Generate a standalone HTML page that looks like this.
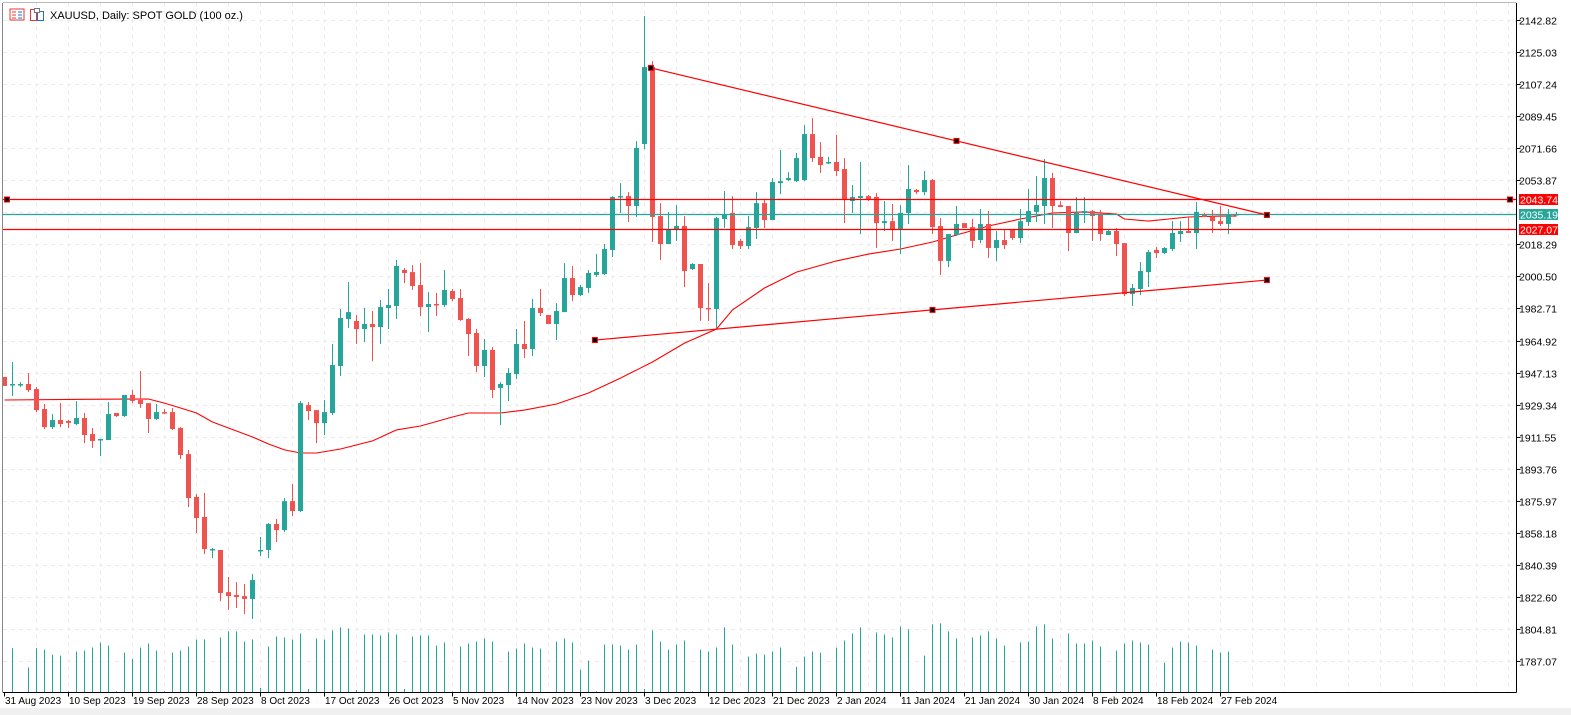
<!DOCTYPE html>
<html><head><meta charset="utf-8"><style>
html,body{margin:0;padding:0;background:#fff;}
svg{display:block;font-family:"Liberation Sans",sans-serif;}
</style></head><body>
<svg id="chart" width="1571" height="715" xmlns="http://www.w3.org/2000/svg">
<rect x="0" y="0" width="1571" height="715" fill="#ffffff"/>
<rect x="0" y="708" width="1571" height="7" fill="#f0f0f0"/>
<g id="grid"></g>
<g id="volumes"></g>
<g id="ma"></g>
<g id="candles"></g>
<g id="objects"></g>
<g id="axes"></g>
<g>
<g>
<rect x="10" y="9" width="14" height="11" fill="#fff" stroke="#e53935" stroke-width="1"/>
<line x1="12" y1="12" x2="16" y2="12" stroke="#e53935"/><line x1="12" y1="15" x2="16" y2="15" stroke="#e53935"/><line x1="12" y1="18" x2="16" y2="18" stroke="#e53935"/>
<line x1="18" y1="12" x2="22" y2="12" stroke="#1e6fd9"/><line x1="18" y1="15" x2="22" y2="15" stroke="#1e6fd9"/><line x1="18" y1="18" x2="22" y2="18" stroke="#1e6fd9"/>
</g>
<g>
<rect x="30.5" y="9.5" width="6" height="11" fill="#fff" stroke="#e53935"/>
<rect x="37.5" y="11.5" width="6" height="9" fill="#fff" stroke="#1e6fd9"/>
<rect x="34.5" y="8.5" width="5" height="4" fill="#fff" stroke="#777"/>
</g>
<text x="50" y="19" font-size="11" fill="#000">XAUUSD, Daily:  SPOT GOLD (100 oz.)</text>
</g>
</svg>
<script>
const open=[1944.7,1940.2,1940.2,1940.8,1938.0,1926.9,1916.9,1920.8,1920.3,1918.6,1921.9,1913.0,1909.7,1909.7,1924.7,1923.0,1934.7,1931.9,1930.2,1921.4,1925.2,1925.2,1916.4,1901.9,1878.1,1867.0,1848.7,1848.7,1825.3,1823.7,1823.1,1821.5,1848.1,1848.7,1863.1,1859.7,1875.8,1870.3,1929.1,1926.3,1919.1,1924.7,1950.8,1976.9,1975.8,1971.3,1974.1,1972.4,1983.0,1984.1,2004.1,2002.9,1995.7,1983.5,1985.2,1984.6,1992.4,1988.5,1976.9,1969.1,1950.8,1959.7,1938.6,1940.2,1946.3,1963.0,1960.2,1983.0,1979.1,1974.1,1980.7,1999.6,1990.2,1994.1,2001.3,2001.8,2015.2,2044.6,2045.1,2039.6,2074.0,2116.7,2034.0,2018.5,2026.8,2028.5,2004.6,2007.4,1983.0,1982.4,2032.4,2035.7,2020.2,2017.4,2027.4,2041.2,2031.8,2052.3,2054.0,2053.4,2054.0,2079.5,2066.8,2063.4,2064.0,2060.1,2042.3,2044.0,2045.1,2044.6,2030.1,2031.2,2026.8,2035.7,2048.5,2047.3,2054.0,2028.5,2009.1,2023.5,2030.1,2027.9,2020.7,2029.6,2016.3,2020.7,2026.3,2021.8,2030.7,2036.3,2039.6,2055.1,2040.1,2039.6,2024.6,2035.7,2036.8,2034.6,2023.5,2025.7,2019.0,1990.7,1993.5,2002.9,2015.2,2013.5,2015.7,2024.0,2025.7,2024.6,2035.1,2033.5,2031.2,2029.6,2035.1];
const close=[1939.7,1940.8,1940.8,1937.4,1926.3,1916.9,1920.8,1918.6,1919.2,1921.9,1912.5,1909.2,1910.3,1924.1,1923.0,1934.7,1931.4,1929.7,1921.4,1925.2,1924.7,1915.8,1901.4,1877.5,1866.4,1849.2,1849.2,1824.8,1823.1,1822.6,1821.5,1832.0,1848.7,1863.1,1859.7,1875.8,1870.3,1930.2,1925.8,1919.1,1925.2,1951.3,1977.4,1980.7,1971.3,1974.1,1972.4,1983.5,1984.6,2006.3,2002.4,1995.2,1983.5,1985.2,1984.6,1993.0,1988.0,1976.3,1968.5,1950.8,1959.7,1937.5,1940.8,1946.9,1963.0,1960.2,1983.0,1980.2,1974.1,1981.3,1999.6,1990.2,1994.6,2002.4,2003.0,2015.7,2044.6,2045.1,2039.6,2071.8,2116.7,2033.5,2018.5,2026.8,2028.5,2003.5,2007.4,1983.0,1982.4,2032.9,2035.1,2017.9,2017.4,2027.9,2041.2,2031.8,2052.9,2053.4,2055.1,2066.2,2079.5,2066.2,2062.3,2064.0,2059.0,2042.9,2044.6,2045.1,2043.5,2030.1,2031.2,2026.8,2035.7,2049.0,2047.3,2054.0,2027.9,2009.1,2024.0,2029.6,2027.4,2020.2,2029.6,2016.3,2020.7,2017.9,2021.8,2031.2,2036.8,2040.1,2055.1,2039.6,2039.0,2024.6,2035.7,2036.8,2034.0,2024.0,2025.7,2018.5,1990.7,1994.1,2003.5,2014.0,2013.5,2016.3,2024.6,2025.7,2024.6,2036.3,2033.5,2031.2,2029.6,2035.1,2035.2];
const high=[1944.7,1953.0,1941.9,1946.9,1939.1,1929.7,1924.1,1930.2,1920.8,1931.3,1924.7,1916.4,1910.3,1930.8,1924.7,1934.7,1937.5,1948.0,1930.2,1929.7,1926.9,1927.5,1916.9,1904.2,1879.7,1880.3,1849.8,1848.7,1833.7,1830.9,1829.8,1835.3,1855.9,1863.6,1865.9,1877.5,1885.3,1931.3,1930.8,1926.3,1931.9,1963.0,1982.4,1997.4,1979.1,1983.0,1981.3,1987.4,1993.5,2009.6,2005.2,2006.8,2007.9,1991.8,1991.3,2004.1,1993.5,1993.5,1977.4,1971.3,1965.8,1961.3,1941.9,1949.7,1971.3,1975.8,1988.0,1993.5,1979.1,1985.7,2007.9,2006.3,1995.7,2004.1,2012.9,2018.5,2045.1,2052.3,2047.3,2075.6,2145.0,2120.0,2041.2,2036.3,2040.1,2034.0,2007.9,2007.4,1996.8,2033.5,2047.9,2045.1,2021.3,2034.0,2047.3,2043.5,2055.1,2070.7,2058.4,2069.0,2084.5,2088.4,2075.1,2066.8,2079.0,2066.2,2051.2,2064.0,2045.7,2046.8,2042.3,2040.7,2040.1,2062.3,2049.0,2059.0,2054.6,2032.9,2024.0,2039.6,2030.1,2032.4,2037.9,2036.8,2025.7,2026.8,2026.8,2037.9,2049.0,2056.2,2065.7,2057.9,2042.3,2039.6,2044.6,2044.6,2037.4,2037.4,2026.3,2027.4,2019.0,1996.3,2008.5,2015.2,2016.8,2016.8,2031.2,2031.2,2033.5,2041.8,2035.7,2037.4,2039.6,2037.9,2036.3];
const low=[1939.7,1934.1,1939.1,1936.3,1925.2,1915.8,1915.8,1916.9,1916.4,1918.0,1908.0,1905.3,1900.8,1909.7,1922.5,1922.5,1930.2,1927.5,1913.6,1920.8,1924.1,1915.3,1899.2,1872.5,1858.1,1846.4,1844.2,1820.3,1815.4,1816.5,1813.1,1810.4,1845.3,1844.2,1853.1,1858.6,1867.5,1869.7,1920.8,1908.0,1912.5,1923.6,1945.2,1971.9,1963.0,1964.1,1953.5,1963.0,1971.3,1976.9,1996.8,1993.0,1978.5,1969.7,1978.5,1983.5,1986.8,1975.8,1956.3,1947.4,1944.7,1933.0,1918.0,1931.3,1943.6,1955.2,1956.3,1978.5,1974.1,1965.2,1980.7,1986.8,1989.6,1991.3,2000.2,2001.3,2011.3,2035.7,2030.7,2033.5,2071.2,2019.6,2009.6,2018.5,2020.2,1994.6,2004.1,1975.8,1975.8,1971.9,2027.4,2015.7,2015.7,2015.7,2021.3,2027.4,2031.8,2046.2,2053.4,2052.9,2053.4,2064.0,2057.9,2062.9,2056.2,2030.1,2035.7,2024.0,2042.3,2016.3,2025.7,2020.2,2012.9,2029.6,2046.2,2045.7,2024.0,2001.3,2005.7,2022.9,2027.4,2016.3,2019.0,2010.7,2009.1,2015.7,2020.7,2019.0,2028.5,2030.7,2029.6,2027.4,2039.0,2014.6,2024.6,2030.1,2020.2,2020.2,2023.5,2011.8,1989.6,1984.1,1990.2,1994.6,2010.7,2012.9,2014.6,2019.6,2024.6,2015.7,2033.5,2024.6,2028.5,2024.0,2034.6];
const volume=[0,130,0,73,130,126,111,108,2,120,123,132,147,138,2,117,99,132,144,123,2,117,123,135,156,156,2,162,180,180,150,156,12,135,165,162,156,174,9,159,156,183,192,189,6,171,171,168,177,171,9,165,168,168,138,147,2,135,144,150,159,150,0,120,129,144,132,129,0,150,159,147,66,93,2,141,141,138,126,141,9,183,150,126,141,153,2,126,120,132,192,141,0,105,114,111,120,132,0,75,105,120,117,0,132,153,174,192,0,177,171,162,195,186,2,108,201,204,180,159,0,162,168,180,159,138,2,147,150,195,201,159,2,174,144,144,153,135,0,123,144,153,147,141,0,87,132,150,147,138,0,126,117,120,0];
const maIdx=[0,10,18,20,22,24,26,28,31,33,35,37,39,42,46,49,52,56,58,62,65,69,73,77,81,85,89,91,95,99,104,108,112,116,119,123,127,131,135,139,140,143,148,152,154];
const maVal=[1931.9,1932.3,1932.5,1930.2,1927.5,1924.7,1919.7,1916.4,1911.4,1907.5,1904.2,1902.5,1902.5,1904.7,1909.2,1915.3,1917.5,1922.5,1924.7,1924.7,1926.3,1929.7,1935.8,1944.1,1953.0,1963.5,1971.3,1981.9,1994.1,2002.9,2009.1,2012.9,2015.7,2019.6,2023.5,2028.5,2032.4,2035.7,2036.3,2035.1,2032.4,2031.2,2033.5,2034.0,2034.0];
const priceTicks=[2142.82,2125.03,2107.24,2089.45,2071.66,2053.87,2018.29,2000.50,1982.71,1964.92,1947.13,1929.34,1911.55,1893.76,1875.97,1858.18,1840.39,1822.60,1804.81,1787.07];
const gridPrices=[2142.82,2125.03,2107.24,2089.45,2071.66,2053.87,2036.08,2018.29,2000.50,1982.71,1964.92,1947.13,1929.34,1911.55,1893.76,1875.97,1858.18,1840.39,1822.60,1804.81,1787.07];
const dateLabels=["31 Aug 2023","10 Sep 2023","19 Sep 2023","28 Sep 2023","8 Oct 2023","17 Oct 2023","26 Oct 2023","5 Nov 2023","14 Nov 2023","23 Nov 2023","3 Dec 2023","12 Dec 2023","21 Dec 2023","2 Jan 2024","11 Jan 2024","21 Jan 2024","30 Jan 2024","8 Feb 2024","18 Feb 2024","27 Feb 2024"];
const dateBars=[0,8,16,24,32,40,48,56,64,72,80,88,96,104,112,120,128,136,144,152];
const hLevels=[2043.74,2027.07];
const lastPrice=2035.19;
const trendBars=[80.8,157.8,73.8,157.8];
const trendPrices=[2116.2,2034.6,1965.2,1998.5];
const trendMidBars=[119,116];

const NS="http://www.w3.org/2000/svg";
const BULL="#26a69a",BEAR="#ef5350",RED="#ff0000";
const PL=3,PR=1516.5,PT=3,PB=692.5;
function yOf(p){return 20+(2142.82-p)*1.8018;}
function xOf(i){return 4+8*i;}
function vY(v){return 692-v/2.97;}
function mk(tag,attrs,parent){const e=document.createElementNS(NS,tag);for(const k in attrs)e.setAttribute(k,attrs[k]);parent.appendChild(e);return e;}
const G=id=>document.getElementById(id);

const grid=G('grid');
gridPrices.forEach(p=>{const y=Math.round(yOf(p))+0.5;
 const l=mk('line',{x1:PL,x2:PR,y1:y,y2:y,stroke:'#eeeaee','stroke-dasharray':'4,4'},grid);
 
 });
for(let i=4;xOf(i)<PR;i+=4){const x=xOf(i)+0.5;
 const l=mk('line',{x1:x,x2:x,y1:PT,y2:PB,stroke:'#eeeaee','stroke-dasharray':'4,4'},grid);
 
 }

const vg=G('volumes');
volume.forEach((v,i)=>{if(v<=0)return;const y=vY(v);
 const r=mk('rect',{x:xOf(i),y:y,width:1,height:692-y,fill:BULL},vg);
 
 });

const maPts=maIdx.map((b,k)=>(xOf(b)+0.5)+','+yOf(maVal[k]).toFixed(1)).join(' ');
const maLine=mk('polyline',{points:maPts,fill:'none',stroke:RED,'stroke-width':1.1},G('ma'));



const cg=G('candles');
open.forEach((o,i)=>{const c=close[i],up=c>=o,col=up?BULL:BEAR,x=xOf(i);
 const g=mk('g',{},cg);
 
 
 const yh=yOf(high[i]),yl=yOf(low[i]);
 mk('rect',{x:x,y:yh,width:1,height:Math.max(1,yl-yh),fill:col},g);
 const yt=yOf(Math.max(o,c)),yb=yOf(Math.min(o,c));
 if(yb-yt<1.5){mk('rect',{x:x-2,y:yt,width:5,height:1.5,fill:col},g);}
 else mk('rect',{x:x-2,y:yt,width:5,height:yb-yt,fill:col},g);});

const og=G('objects');
function marker(x,y,name){const r=mk('rect',{x:x-2.5,y:y-2.5,width:5,height:5,fill:'#000',stroke:RED,'stroke-width':1},og);
 
 }
hLevels.forEach(p=>{const y=Math.round(yOf(p))+0.5;
 const l=mk('line',{x1:PL,x2:PR,y1:y,y2:y,stroke:RED,'stroke-width':1.3},og);
 
 });
const ly=Math.round(yOf(lastPrice))+0.5;
const lp=mk('line',{x1:PL,x2:PR,y1:ly,y2:ly,stroke:BULL,'stroke-width':1.2},og);


marker(7,Math.round(yOf(hLevels[0]))+0.5,'level-handle-left');
marker(1510,Math.round(yOf(hLevels[0]))+0.5,'level-handle-right');
for(let t=0;t<2;t++){
 const x1=xOf(trendBars[2*t])+0.5,y1=yOf(trendPrices[2*t]),x2=xOf(trendBars[2*t+1])+0.5,y2=yOf(trendPrices[2*t+1]);
 const l=mk('line',{x1:x1,y1:y1,x2:x2,y2:y2,stroke:RED,'stroke-width':1.2},og);
 
 
 marker(x1,y1,'trendline-handle');
 marker(x2,y2,'trendline-handle');
 const mb=trendMidBars[t],mx=xOf(mb)+0.5,my=y1+(y2-y1)*(mx-x1)/(x2-x1);
 marker(mx,my,'trendline-handle');}

const ag=G('axes');
let e=mk('line',{x1:PL-0.5,x2:PL-0.5,y1:PT,y2:PB,stroke:'#888'},ag);
e=mk('line',{x1:PL,x2:PR,y1:PT-0.5,y2:PT-0.5,stroke:'#bbb'},ag);
e=mk('line',{x1:PR,x2:PR,y1:PT,y2:PB,stroke:'#000'},ag);


e=mk('line',{x1:PL,x2:PR,y1:PB,y2:PB,stroke:'#000'},ag);


priceTicks.forEach(p=>{const y=Math.round(yOf(p))+0.5;
 mk('line',{x1:PR,x2:PR+4,y1:y,y2:y,stroke:'#000'},ag);
 const t=mk('text',{x:1519,y:y+4,'font-size':10.5,fill:'#000'},ag);
 t.textContent=p.toFixed(2);
 
 });
function tag(p,col){const y=Math.round(yOf(p))+0.5;
 const r=mk('rect',{x:1519,y:y-5.5,width:39,height:11,fill:col},ag);
 
 
 const t=mk('text',{x:1520,y:y+4,'font-size':10.5,fill:'#fff'},ag);
 t.textContent=p.toFixed(2);
 
 }
tag(hLevels[0],RED);tag(lastPrice,BULL);tag(hLevels[1],RED);
dateBars.forEach((b,k)=>{const x=Math.round(xOf(b))+0.5;
 mk('line',{x1:x,x2:x,y1:PB,y2:PB+4,stroke:'#000'},ag);
 const t=mk('text',{x:x+0.5,y:704,'font-size':10,fill:'#000'},ag);
 t.textContent=dateLabels[k];
 
 });
</script>
</body></html>
